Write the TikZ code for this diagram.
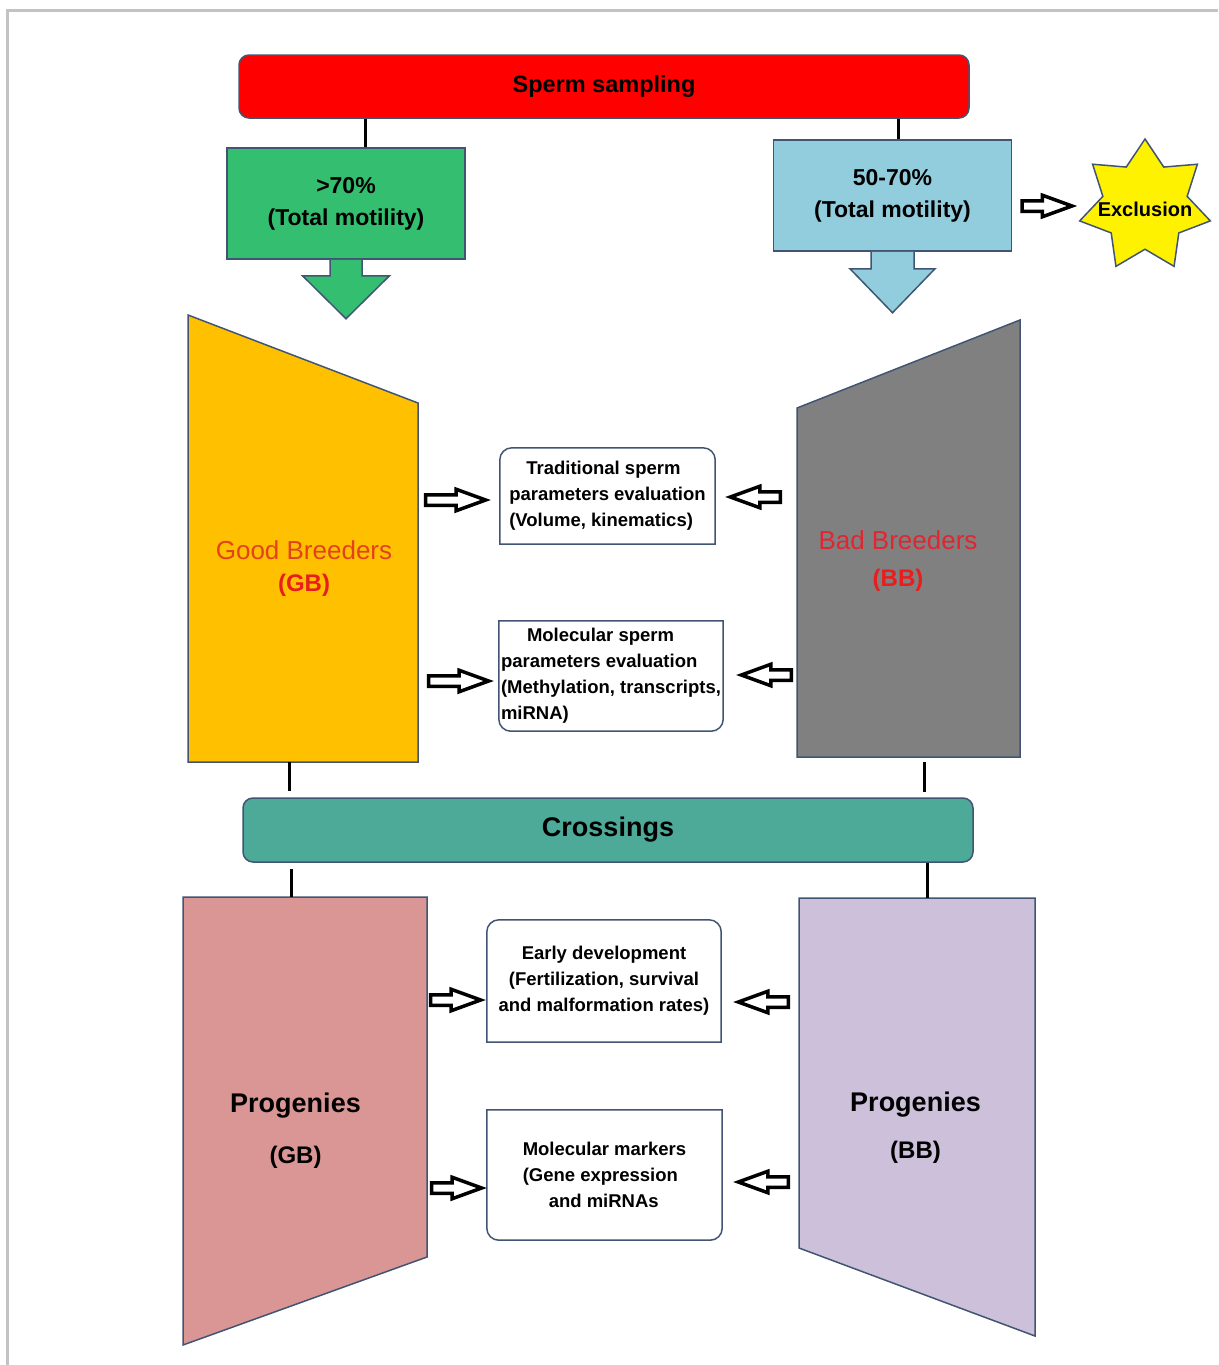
\documentclass[tikz,border=0pt]{standalone}
\usepackage{fontspec}
\setmainfont{Liberation Sans}
\usepackage{tikz}
\usetikzlibrary{positioning,shapes.geometric,shapes.arrows}

\definecolor{edgecol}{RGB}{65,85,115}
\definecolor{framegray}{RGB}{195,195,195}
\definecolor{samplered}{RGB}{255,0,0}
\definecolor{goodgreen}{RGB}{52,190,112}
\definecolor{okblue}{RGB}{146,205,221}
\definecolor{gbyellow}{RGB}{255,192,0}
\definecolor{bbgray}{RGB}{128,128,128}
\definecolor{crossteal}{RGB}{77,170,152}
\definecolor{pgbpink}{RGB}{217,150,148}
\definecolor{pbblilac}{RGB}{204,192,218}
\definecolor{gbtext}{RGB}{226,66,30}
\definecolor{bbtext}{RGB}{224,38,48}
\definecolor{labelred}{RGB}{232,30,30}

\tikzstyle{stage} = [draw=edgecol, line width=1.5pt, rounded corners=10pt, minimum width=730pt, minimum height=63pt]
\tikzstyle{motility} = [draw=edgecol, line width=1.5pt, minimum width=238pt, minimum height=111pt, align=center, font=\fontsize{23}{32}\selectfont\bfseries]
\tikzstyle{panel} = [inner sep=0pt, outer sep=0pt]
\tikzstyle{panelfill} = [draw=edgecol, line width=1.5pt]
\tikzstyle{evalbox} = [inner sep=0pt, font=\fontsize{18.5}{26}\selectfont\bfseries]
\tikzstyle{evalline} = [draw=edgecol, line width=1.5pt]
\tikzstyle{hollow} = [single arrow, draw=black, fill=white, line width=3.5pt, inner sep=3.5pt, single arrow head extend=5.5pt, single arrow tip angle=40, minimum height=50pt]
\tikzstyle{back} = [hollow, shape border rotate=180]
\tikzstyle{link} = [line width=3pt]

\newcommand{\evaltop}[1]{\draw[evalline] (#1.south west) -- ([yshift=-12pt]#1.north west) arc[start angle=180, end angle=90, radius=12pt] -- ([xshift=-12pt]#1.north east) arc[start angle=90, end angle=0, radius=12pt] -- (#1.south east) -- cycle;}
\newcommand{\evalbottom}[1]{\draw[evalline] (#1.north west) -- ([yshift=12pt]#1.south west) arc[start angle=180, end angle=270, radius=12pt] -- ([xshift=-12pt]#1.south east) arc[start angle=270, end angle=360, radius=12pt] -- (#1.north east) -- cycle;}

\begin{document}
\begin{tikzpicture}[x=1pt, y=-1pt]
	\useasboundingbox (0,0) rectangle (1218,1365);
	\draw[framegray, line width=3pt] (7,1365) -- (7,10) -- (1218,10);

	% sampling and motility classes
	\node[stage, fill=samplered, font=\fontsize{23.5}{28}\selectfont\bfseries] (samp) at (604,86.5) {Sperm sampling};
	\node[motility, fill=goodgreen] (green) at (346,203.5) {>70\%\\(Total motility)};
	\node[motility, fill=okblue] (blue) at (892.5,195.5) {50-70\%\\(Total motility)};
	\filldraw[panelfill, fill=goodgreen] ([xshift=-16pt]green.south) -- ++(0,16) -- ++(-27.5,0) -- ++(43.5,43) -- ++(43.5,-43) -- ++(-27.5,0) -- ++(0,-16);
	\filldraw[panelfill, fill=okblue] ([xshift=-21.5pt]blue.south) -- ++(0,17) -- ++(-21,0) -- ++(42.5,44) -- ++(42.5,-44) -- ++(-21,0) -- ++(0,-17);
	\draw[link] ([xshift=19pt]green.north) -- ([xshift=19pt]green.north |- samp.south);
	\draw[link] ([xshift=5.5pt]blue.north) -- ([xshift=5.5pt]blue.north |- samp.south);

	\node[hollow, right=8pt of blue, yshift=-10.5pt] (toexcl) {};
	\node[star, star points=7, star point ratio=1.55, minimum size=134pt, inner sep=0pt, fill=yellow, draw=edgecol, line width=1.5pt] (excl) at (1145,206) {};
	\node[font=\fontsize{20}{24}\selectfont\bfseries] (excltext) at (1145,209) {Exclusion};

	% breeders
	\node[panel, minimum width=230pt, minimum height=447pt] (gb) at (303,538.5) {};
	\filldraw[panelfill, fill=gbyellow] (gb.north west) -- ([yshift=-88pt]gb.north east) -- (gb.south east) -- (gb.south west) -- cycle;
	\node[panel, minimum width=223pt, minimum height=437pt] (bb) at (908.5,538.5) {};
	\filldraw[panelfill, fill=bbgray] ([yshift=-88pt]bb.north west) -- (bb.north east) -- (bb.south east) -- (bb.south west) -- cycle;
	\node[align=center, font=\fontsize{26}{32}\selectfont] (gblabel) at (304,569) {\color{gbtext}Good Breeders\\\bfseries\fontsize{24}{32}\selectfont\color{labelred}(GB)};
	\node[align=center, font=\fontsize{26}{32}\selectfont] (bblabel) at (898,561.5) {\color{bbtext}Bad Breeders\\[5pt]\bfseries\fontsize{24}{32}\selectfont\color{labelred}(BB)};

	\node[evalbox, minimum width=215pt, minimum height=96pt, align=left] (trad) at (607.5,496) {\hspace*{17pt}Traditional sperm\\parameters evaluation\\(Volume, kinematics)};
	\evaltop{trad}
	\node[evalbox, minimum width=224pt, minimum height=110pt, align=left] (molsp) at (611,676) {\hspace*{26pt}Molecular sperm\\parameters evaluation\\(Methylation, transcripts,\\miRNA)};
	\evalbottom{molsp}
	\node[hollow, minimum height=60pt, left=9pt of trad, yshift=-4pt] (gbtrad) {};
	\node[back, right=10pt of trad, yshift=-1pt] (bbtrad) {};
	\node[hollow, minimum height=60pt, left=5pt of molsp, yshift=-5pt] (gbmolsp) {};
	\node[back, right=13pt of molsp, yshift=1pt] (bbmolsp) {};

	% crossings
	\node[stage, fill=crossteal, minimum height=64pt, font=\fontsize{27}{32}\selectfont\bfseries] (cross) at (608,830) {Crossings};
	\draw[link, shorten >=6pt] ([xshift=-14pt]gb.south) -- ([xshift=-14pt]gb.south |- cross.north);
	\draw[link, shorten <=5pt, shorten >=5pt] ([xshift=15.5pt]bb.south) -- ([xshift=15.5pt]bb.south |- cross.north);

	% progenies
	\node[panel, minimum width=244pt, minimum height=448pt] (pgb) at (305,1121) {};
	\filldraw[panelfill, fill=pgbpink] (pgb.north west) -- (pgb.north east) -- ([yshift=88pt]pgb.south east) -- (pgb.south west) -- cycle;
	\node[panel, minimum width=236pt, minimum height=438pt] (pbb) at (917,1117) {};
	\filldraw[panelfill, fill=pbblilac] (pbb.north west) -- (pbb.north east) -- (pbb.south east) -- ([yshift=88pt]pbb.south west) -- cycle;
	\draw[link, shorten <=6pt] ([xshift=-14pt]pgb.north |- cross.south) -- ([xshift=-14pt]pgb.north);
	\draw[link] ([xshift=10pt]pbb.north |- cross.south) -- ([xshift=10pt]pbb.north);
	\node[align=center, font=\fontsize{27}{33}\selectfont\bfseries] (pgblabel) at (295.5,1130.5) {Progenies\\[18pt]\fontsize{24}{33}\selectfont(GB)};
	\node[align=center, font=\fontsize{27}{33}\selectfont\bfseries] (pbblabel) at (915.5,1127.5) {Progenies\\[14pt]\fontsize{24}{33}\selectfont(BB)};

	\node[evalbox, minimum width=234pt, minimum height=122pt, align=center] (early) at (604,981) {Early development\\(Fertilization, survival\\and malformation rates)};
	\evaltop{early}
	\node[evalbox, minimum width=235pt, minimum height=130pt, align=left] (markers) at (604.5,1175) {Molecular markers\\(Gene expression\\\hspace*{26pt}and miRNAs};
	\evalbottom{markers}
	\node[hollow, left=1pt of early, yshift=-19pt] (pgbearly) {};
	\node[back, right=12pt of early, yshift=-21pt] (pbbearly) {};
	\node[hollow, left=0pt of markers, yshift=-13pt] (pgbmark) {};
	\node[back, right=11pt of markers, yshift=-7pt] (pbbmark) {};
\end{tikzpicture}
\end{document}
